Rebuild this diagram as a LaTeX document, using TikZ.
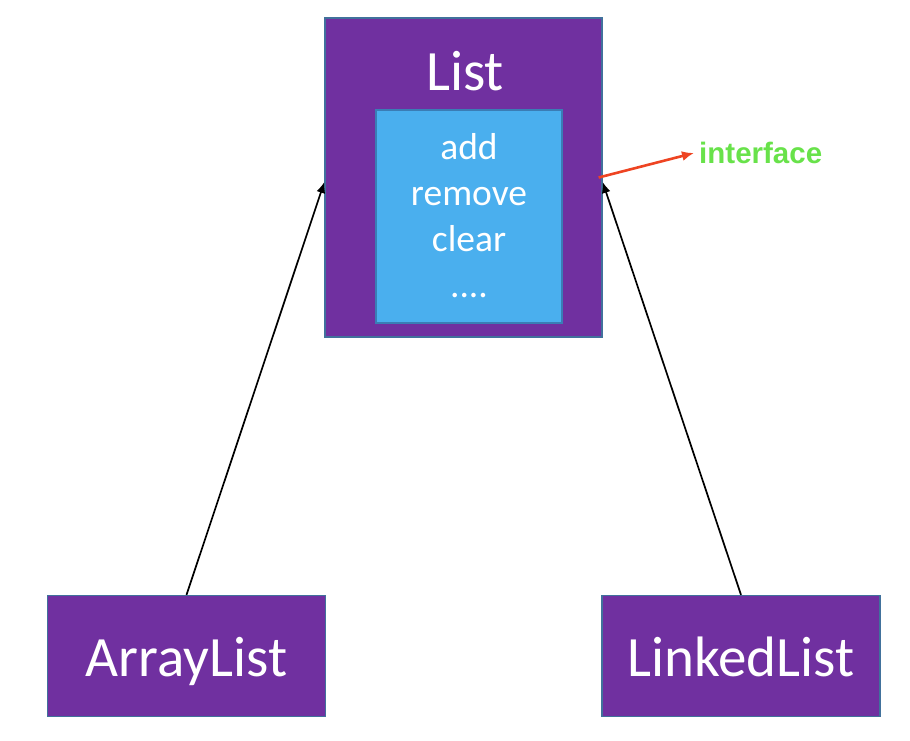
\documentclass[tikz,border=0pt]{standalone}
\usepackage{fontspec}
\setmainfont{Carlito}
\newfontfamily\arialfont{Liberation Sans}
\usetikzlibrary{arrows.meta}
\definecolor{boxpurple}{HTML}{7030A0}
\definecolor{boxedge}{HTML}{41719C}
\definecolor{innerblue}{HTML}{4AAFEE}
\definecolor{inneredge}{HTML}{3A7DB5}
\definecolor{ifacered}{HTML}{EE4422}
\definecolor{ifacegreen}{HTML}{68E24A}
\tikzset{
  classbox/.style={draw=boxedge, line width=1.3pt, fill=boxpurple, inner sep=0pt},
  methbox/.style={draw=inneredge, line width=1.5pt, fill=innerblue, inner sep=0pt},
  bigtext/.style={text=white, font=\fontsize{57}{68}\selectfont, inner sep=0pt, anchor=base},
  methtext/.style={text=white, font=\fontsize{37.5}{46}\selectfont, inner sep=0pt, anchor=base},
  inherit/.style={black, line width=1.7pt, -{Latex[length=11pt,width=9pt]}},
  redarrow/.style={ifacered, line width=2.6pt, -{Latex[length=12pt,width=10pt]}},
}
\begin{document}
\begin{tikzpicture}[x=1pt,y=-1pt]
\useasboundingbox (0,0) rectangle (910,740);
% List interface box
\node[classbox, minimum width=277pt, minimum height=319pt] (list) at (463.5,177.5) {};
\node[methbox, minimum width=186pt, minimum height=213pt] (meth) at (469,216.5) {};
\node[bigtext] (listtxt) at (465,90) {List};
\node[methtext] (m1) at (469,159) {add};
\node[methtext] (m2) at (469,205) {remove};
\node[methtext] (m3) at (469,251) {clear};
\node[methtext] (m4) at (469,297) {....};
% implementations
\node[classbox, minimum width=278pt, minimum height=121pt] (arr) at (186.5,656) {};
\node[bigtext] (arrtxt) at (186.5,676.5) {ArrayList};
\node[classbox, minimum width=278pt, minimum height=121pt] (lnk) at (741,656) {};
\node[bigtext] (lnktxt) at (741,676.5) {LinkedList};
% interface label
\node[text=ifacegreen, font=\arialfont\bfseries\fontsize{29.5}{35}\selectfont, inner sep=0pt, anchor=west] (iface) at (699,153) {interface};
% connectors
\draw[inherit] (arr.north) -- ([yshift=-4.5pt]list.west);
\draw[inherit] (lnk.north) -- ([yshift=-4.5pt]list.east);
\draw[redarrow] ([xshift=-4pt]list.east) -- ([xshift=-5pt]iface.west);
\end{tikzpicture}
\end{document}
